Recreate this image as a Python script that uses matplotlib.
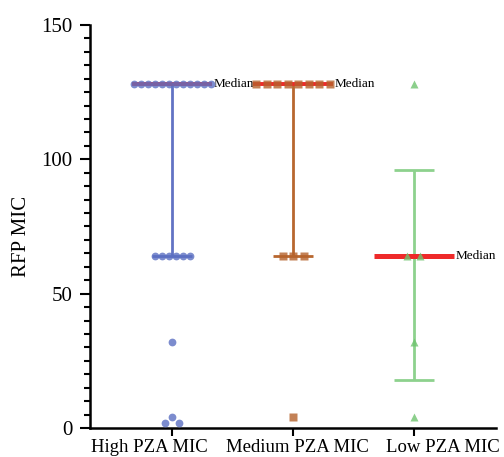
import numpy as np
import matplotlib.pyplot as plt
from matplotlib.ticker import MultipleLocator
from matplotlib.transforms import ScaledTranslation

plt.rcParams['font.family'] = ['Liberation Serif', 'DejaVu Serif']

groups = ["High PZA MIC", "Medium PZA MIC", "Low PZA MIC"]
high_mic = [128, 128, 128, 128, 128, 128, 128, 128, 128, 128, 128, 128,
            64, 64, 64, 64, 64, 64, 32, 4, 2, 2]
medium_mic = [128, 128, 128, 128, 128, 128, 128, 128, 64, 64, 64, 4]
low_mic = [128, 64, 64, 32, 4]
data = [high_mic, medium_mic, low_mic]

colors = ["#5b6fc2", "#b5622c", "#6fc46f"]
bar_colors = ["#6273c4", "#b8672f", "#8dd18d"]
markers = ["o", "s", "^"]
msizes = [5.6, 5.6, 5.4]
spacing_px = [7.0, 10.5, 13.0]
label_shift_px = [-23, 4, 29]

fig = plt.figure(figsize=(5.04, 4.57), dpi=100)
ax = fig.add_axes([90 / 504, 1 - 428 / 457, 406 / 504, 403 / 457])
ax.set_xlim(-0.678, 2.678)
ax.set_ylim(0, 150)

px_x = 406 / (2.678 + 0.678)
px_y = 403 / 150


def swarm(values, d, diam=7.0):
    # spread tied values sideways, widen if they bump into earlier points
    placed = []
    xs = np.zeros(len(values))
    vals = np.array(values, dtype=float)
    for v in sorted(set(values), reverse=True):
        idx = np.where(vals == v)[0]
        k = len(idx)
        f = 1
        while True:
            offs = (np.arange(k) - (k - 1) / 2) * d * f
            ok = all(np.hypot(o - px, (v - py) * px_y) >= diam * 0.95
                     for o in offs for px, py in placed)
            if ok or f > 5:
                break
            f += 1
        for j, o in zip(idx, offs):
            xs[j] = o
            placed.append((o, v))
    return xs / px_x


for i, vals in enumerate(data):
    med = np.median(vals)
    q1, q3 = np.percentile(vals, [25, 75], method="weibull")
    ax.errorbar(i, med, yerr=[[med - q1], [q3 - med]], fmt="none",
                ecolor=bar_colors[i], elinewidth=2.0, capsize=14.4,
                capthick=2.0, zorder=2)
    lw = 3.6 if i == 2 else 2.8
    ax.hlines(med, i - 40 / px_x, i + 40 / px_x, color="#ee2a2a", lw=lw, zorder=3)
    ax.text(i + 42 / px_x, med, "Median", fontsize=9.5, va="center", ha="left")
    xs = swarm(vals, spacing_px[i])
    ax.plot(i + xs, vals, linestyle="none", marker=markers[i], ms=msizes[i],
            color=colors[i], mec="none", alpha=0.8, zorder=4, clip_on=False)

for s in ["top", "right"]:
    ax.spines[s].set_visible(False)
for s in ["left", "bottom"]:
    ax.spines[s].set_linewidth(1.8)

ax.yaxis.set_major_locator(MultipleLocator(50))
ax.yaxis.set_minor_locator(MultipleLocator(5))
ax.tick_params(axis="y", which="major", length=7.5, width=1.5, labelsize=15, pad=5)
ax.tick_params(axis="y", which="minor", length=4.5, width=1.5)
ax.set_xticks(range(len(groups)), groups)
ax.tick_params(axis="x", length=6, width=1.5, labelsize=13.5, pad=2)
for lab, dx in zip(ax.get_xticklabels(), label_shift_px):
    lab.set_transform(lab.get_transform() +
                      ScaledTranslation(dx / 100, 0, fig.dpi_scale_trans))

ax.set_ylabel("RFP MIC", fontsize=15)
ax.yaxis.set_label_coords(-0.145, 0.476)

fig.savefig("out.png", dpi=100)
